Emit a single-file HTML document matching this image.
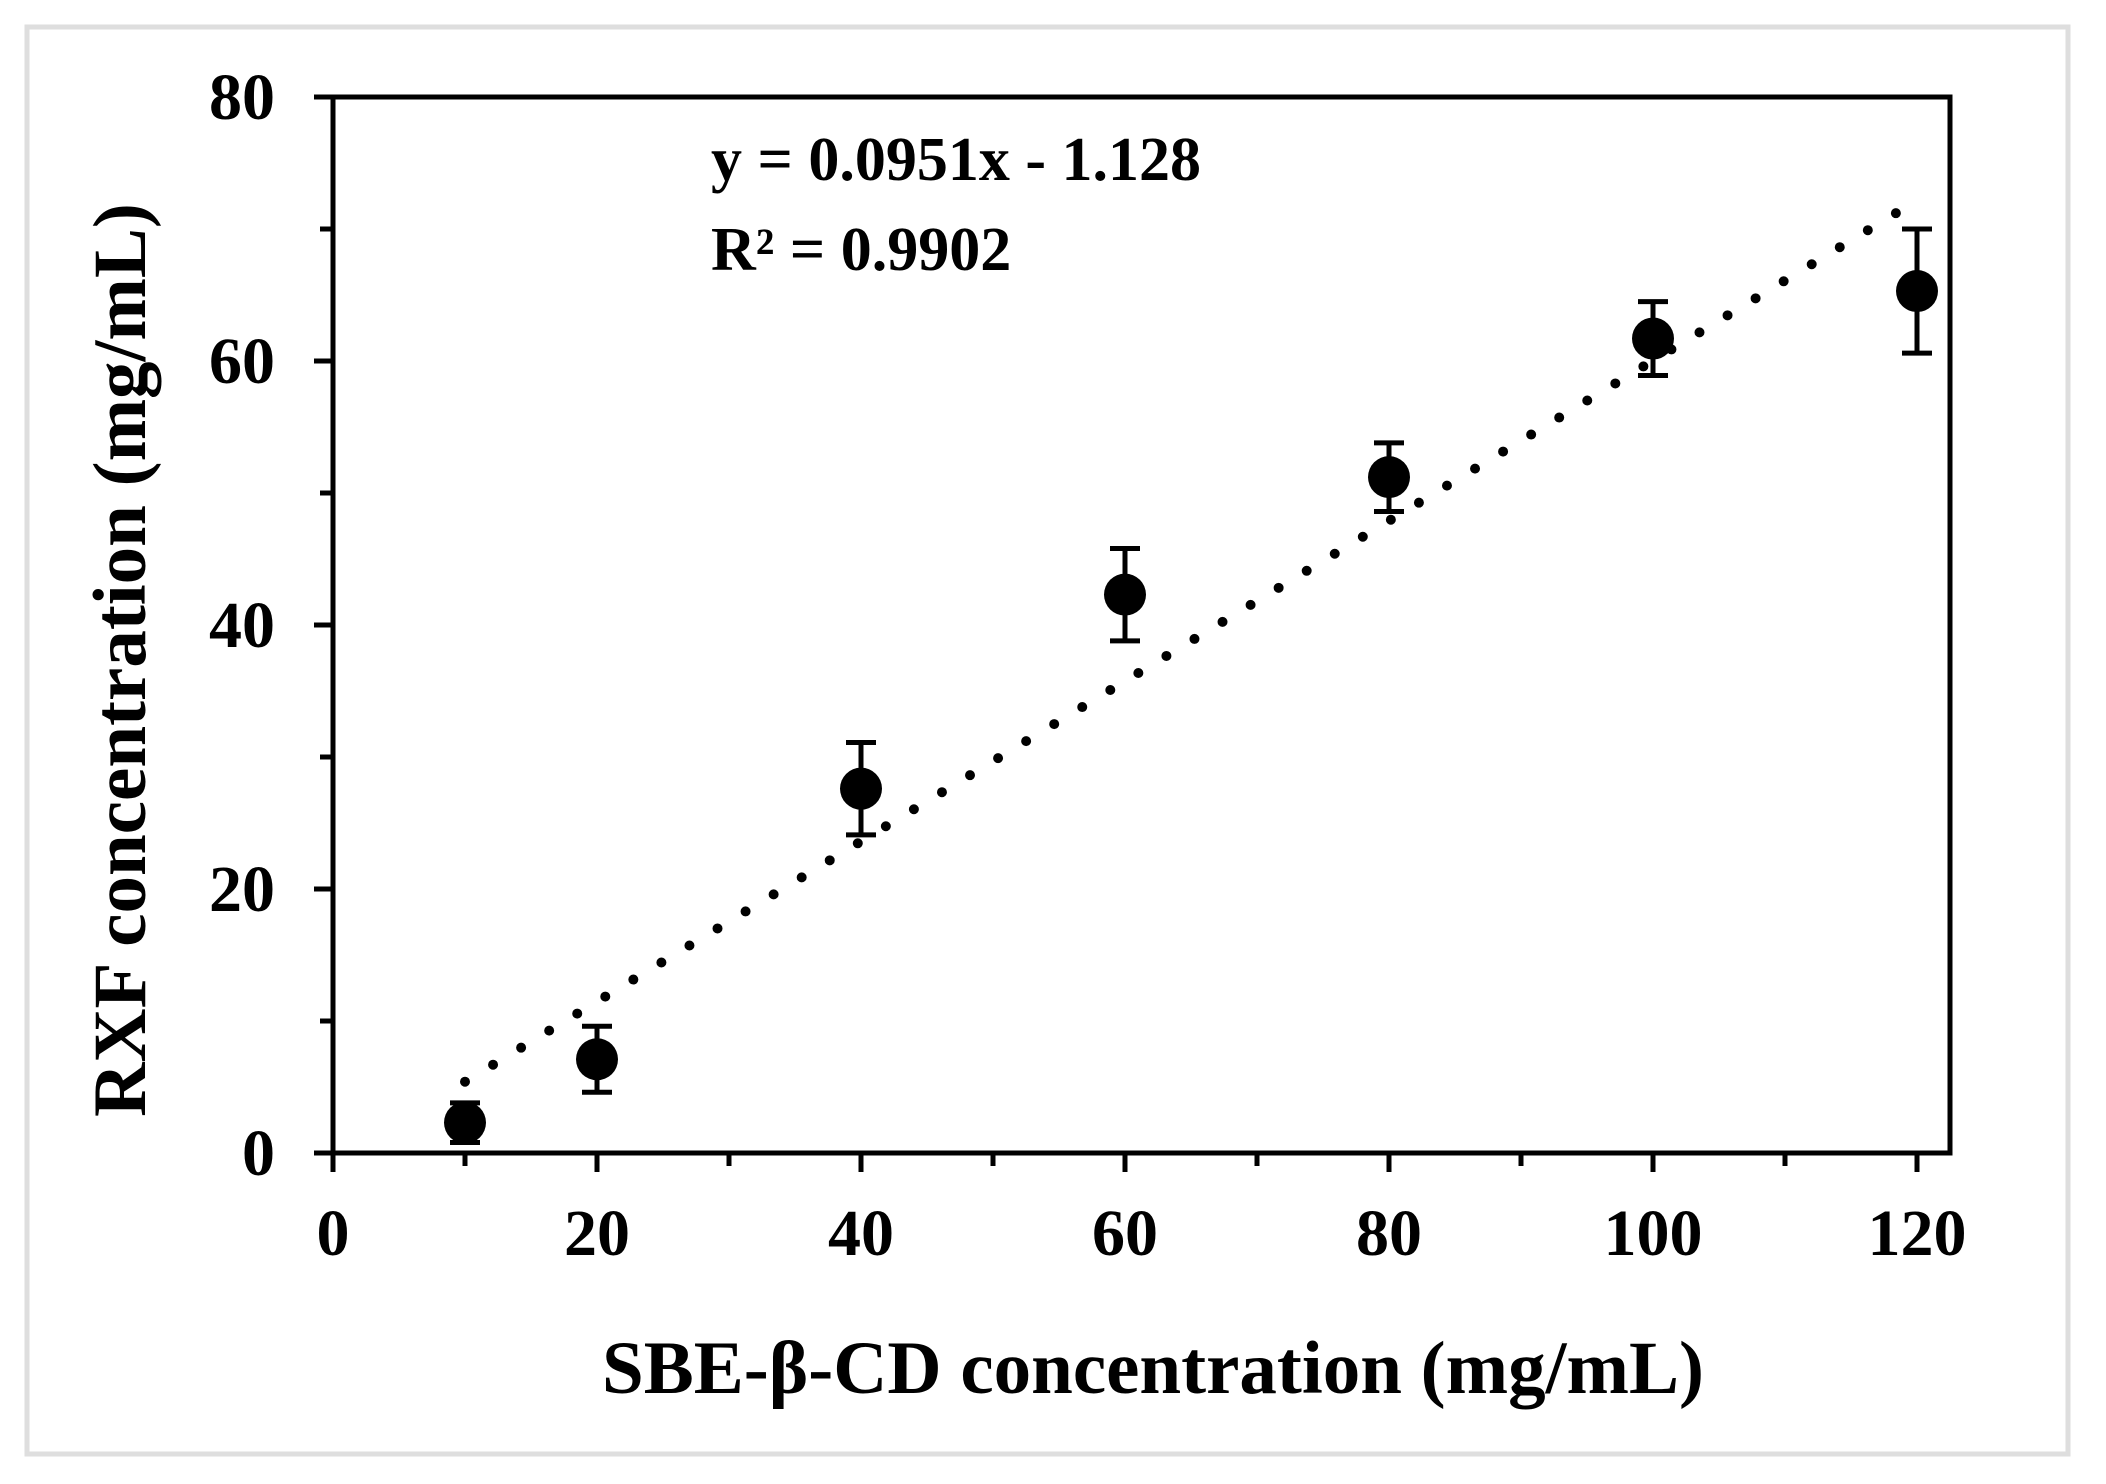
<!DOCTYPE html>
<html><head><meta charset="utf-8"><style>
html,body{margin:0;padding:0;background:#fff;}
svg{display:block;}
text{font-family:"Liberation Serif",serif;font-weight:bold;fill:#000;}
</style></head><body>
<svg id="chart" width="2106" height="1484" viewBox="0 0 2106 1484">
<rect x="27" y="27" width="2041" height="1427" fill="#fff" stroke="#dedede" stroke-width="5"/>
<g id="axes"></g>
<g id="marks"></g>
<text x="711" y="180" font-size="62">y = 0.0951x - 1.128</text>
<text x="711" y="270" font-size="62">R² = 0.9902</text>
<text x="1153" y="1393" font-size="75" text-anchor="middle">SBE-β-CD concentration (mg/mL)</text>
<text transform="translate(145,660) rotate(-90)" font-size="75" text-anchor="middle">RXF concentration (mg/mL)</text>
</svg>
<script>
const xValues = [10, 20, 40, 60, 80, 100, 120];
const yValues = [2.3, 7.1, 27.6, 42.3, 51.2, 61.7, 65.3];
const yErrors = [1.5, 2.5, 3.5, 3.5, 2.6, 2.8, 4.7];
const trendX = [10, 118.4];
const trendY = [5.4, 71.2];
const xTicks = [0, 20, 40, 60, 80, 100, 120];
const yTicks = [0, 20, 40, 60, 80];

const NS = 'http://www.w3.org/2000/svg';
const L = 333, R = 1950, T = 97, B = 1153;
const sx = v => L + v * 13.2;
const sy = v => B - (v / 80) * (B - T);
function mk(tag, attrs, parent) {
  const e = document.createElementNS(NS, tag);
  for (const k in attrs) e.setAttribute(k, attrs[k]);
  parent.appendChild(e);
  return e;
}
const axes = document.getElementById('axes');
const marks = document.getElementById('marks');

let el = mk('rect', {x: L, y: T, width: R - L, height: B - T, fill: 'none', stroke: '#000', 'stroke-width': 5}, axes);



for (let v = 0; v <= 120; v += 10) {
  const major = v % 20 === 0;
  el = mk('line', {x1: sx(v), x2: sx(v), y1: B, y2: B + (major ? 19 : 13), stroke: '#000', 'stroke-width': 5}, axes);
  
  
}
for (let v = 0; v <= 80; v += 10) {
  const major = v % 20 === 0;
  el = mk('line', {x1: L - (major ? 19 : 13), x2: L, y1: sy(v), y2: sy(v), stroke: '#000', 'stroke-width': 5}, axes);
  
  
}
xTicks.forEach(v => {
  el = mk('text', {x: sx(v), y: 1255, 'font-size': 66, 'text-anchor': 'middle'}, axes);
  el.textContent = String(v);
  
  
});
yTicks.forEach(v => {
  el = mk('text', {x: 275, y: sy(v) + 22, 'font-size': 66, 'text-anchor': 'end'}, axes);
  el.textContent = String(v);
  
  
});

const tx1 = sx(trendX[0]), ty1 = sy(trendY[0]), tx2 = sx(trendX[1]), ty2 = sy(trendY[1]);
const tlen = Math.hypot(tx2 - tx1, ty2 - ty1);
const gap = tlen / Math.round(tlen / 33);
el = mk('line', {x1: tx1, y1: ty1, x2: tx2, y2: ty2, stroke: '#000', 'stroke-width': 10, 'stroke-linecap': 'round', 'stroke-dasharray': '0 ' + gap}, marks);



xValues.forEach((x, i) => {
  const cx = sx(x), hi = sy(yValues[i] + yErrors[i]), lo = sy(yValues[i] - yErrors[i]);
  const g = mk('g', {}, marks);
  
  
  mk('line', {x1: cx, x2: cx, y1: hi, y2: lo, stroke: '#000', 'stroke-width': 5}, g);
  mk('line', {x1: cx - 15, x2: cx + 15, y1: hi, y2: hi, stroke: '#000', 'stroke-width': 5}, g);
  mk('line', {x1: cx - 15, x2: cx + 15, y1: lo, y2: lo, stroke: '#000', 'stroke-width': 5}, g);
  mk('circle', {cx: cx, cy: sy(yValues[i]), r: 21, fill: '#000'}, g);
});
</script>
</body></html>
